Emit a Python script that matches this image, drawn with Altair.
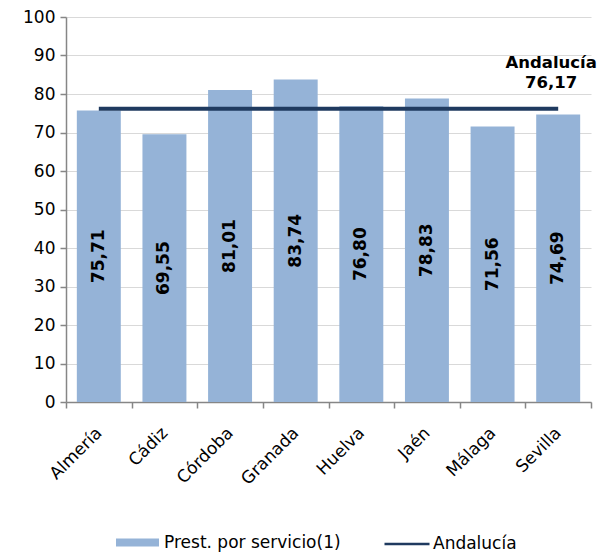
import altair as alt
import pandas as pd

provincias = ["Almería", "Cádiz", "Córdoba", "Granada", "Huelva", "Jaén", "Málaga", "Sevilla"]
prestaciones = [75.71, 69.55, 81.01, 83.74, 76.80, 78.83, 71.56, 74.69]
andalucia = 76.17
serie_bar = "Prest. por servicio(1)"
serie_line = "Andalucía"
y_ticks = [0, 10, 20, 30, 40, 50, 60, 70, 80, 90, 100]

df = pd.DataFrame({
    "prov": provincias,
    "val": prestaciones,
    "lab": [f"{v:.2f}".replace(".", ",") for v in prestaciones],
    "and": [andalucia] * len(provincias),
    "s1": [serie_bar] * len(provincias),
    "s2": [serie_line] * len(provincias),
})
df["mid"] = df["val"] / 2
df["andlab"] = [""] * (len(provincias) - 1) + [f"Andalucía\n{andalucia:.2f}".replace(".", ",")]

FONT = "DejaVu Sans"

x_axis = alt.Axis(labelAngle=-45, labelAlign="right", labelBaseline="middle",
                  tickBand="extent", grid=False, labelPadding=22, tickSize=6)
y_axis = alt.Axis(values=y_ticks, tickSize=6, labelPadding=5, labelOverlap=False)
y_scale = alt.Scale(domain=[0, 100])

x = alt.X("prov:N", sort=provincias, title=None,
          scale=alt.Scale(paddingInner=0, paddingOuter=0), axis=x_axis)

base = alt.Chart(df).encode(x=x)

bars = base.mark_bar(width=alt.RelativeBandSize(0.67)).encode(
    y=alt.Y("val:Q", title=None, scale=y_scale, axis=y_axis),
    fill=alt.Fill("s1:N", scale=alt.Scale(domain=[serie_bar], range=["#95B3D7"]),
                  legend=alt.Legend(title=None, orient="none", legendX=49, legendY=503,
                                    symbolType="M-1,-0.19H1V0.19H-1Z", symbolSize=1850,
                                    labelFontSize=17, labelOffset=4, labelLimit=400)),
)

labels = base.mark_text(angle=270, font=FONT, fontWeight="bold", fontSize=17,
                        color="black").encode(
    y=alt.Y("mid:Q", title=None, scale=y_scale, axis=y_axis), text="lab:N")

line = base.mark_line(strokeWidth=4).encode(
    y=alt.Y("and:Q", title=None, scale=y_scale, axis=y_axis),
    stroke=alt.Stroke("s2:N", scale=alt.Scale(domain=[serie_line], range=["#1F3A5F"]),
                      legend=alt.Legend(title=None, orient="none", legendX=317, legendY=503,
                                        symbolType="stroke", symbolStrokeWidth=2.5,
                                        symbolSize=2025, labelFontSize=17, labelOffset=2,
                                        labelLimit=400)),
)

andlab = base.mark_text(font=FONT, fontWeight="bold", fontSize=16.5, color="black",
                        baseline="alphabetic", dy=-41, dx=-7, lineBreak="\n",
                        lineHeight=20, align="center").encode(
    y=alt.Y("and:Q", title=None, scale=y_scale, axis=y_axis), text="andlab:N")

chart = alt.layer(bars, labels, line, andlab).resolve_legend(
    fill="independent", stroke="independent"
).properties(
    width=525, height=385,
    padding={"left": 58, "top": 9, "right": 6, "bottom": 152},
    autosize=alt.AutoSizeParams(type="none"),
).configure(
    font=FONT,
).configure_axis(
    labelFont=FONT, labelColor="black", domainColor="#868686", domainWidth=1.5,
    tickColor="#868686", tickWidth=1.5, gridColor="#D9D9D9", gridWidth=1,
).configure_axisY(
    labelFontSize=17,
).configure_axisX(
    labelFontSize=17,
).configure_legend(
    labelFont=FONT, labelColor="black",
).configure_view(stroke=None)

chart.save("out.html", embed_options={"renderer": "svg", "actions": False})
